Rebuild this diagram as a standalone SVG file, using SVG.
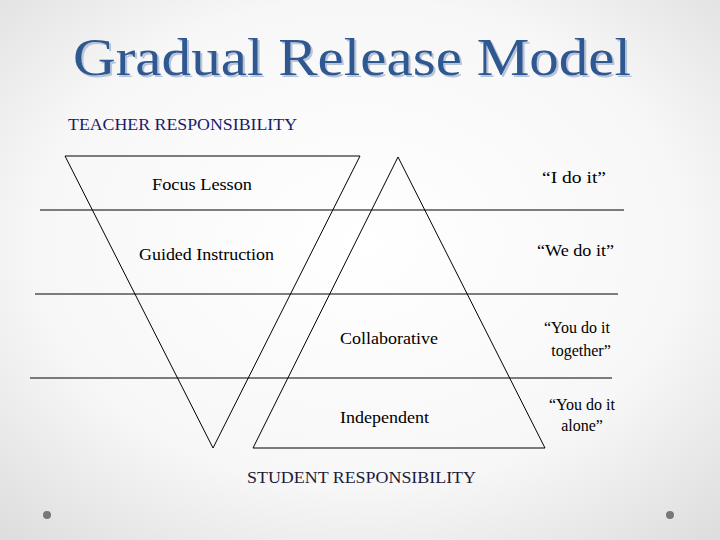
<svg xmlns="http://www.w3.org/2000/svg" width="720" height="540" viewBox="0 0 720 540">
<defs>
<radialGradient id="bg" cx="50%" cy="45%" r="75%">
<stop offset="0" stop-color="#ffffff"/><stop offset="0.6" stop-color="#f7f7f7"/><stop offset="1" stop-color="#dcdcdc"/>
</radialGradient>
<filter id="sh" x="-5%" y="-20%" width="110%" height="140%"><feDropShadow dx="2" dy="2" stdDeviation="0.5" flood-color="#b8c4d8"/></filter>
<style>
.n{fill:none;stroke:#000;stroke-width:1}
</style>
</defs>
<rect width="720" height="540" fill="url(#bg)"/>
<text x="352" y="75" text-anchor="middle" font-family="Liberation Serif, serif" font-size="52" fill="#2f5891" textLength="558" lengthAdjust="spacingAndGlyphs" filter="url(#sh)">Gradual Release Model</text>
<g font-family="'Liberation Serif', 'DejaVu Serif', serif" font-size="16" fill="#000">
<text x="68" y="130" fill="#1b1b6b" textLength="229" lengthAdjust="spacingAndGlyphs">TEACHER RESPONSIBILITY</text>
<g id="connectors">
<line class="n" x1="40" y1="210" x2="624" y2="210"/>
<line class="n" x1="35" y1="294" x2="618" y2="294"/>
<line class="n" x1="30" y1="378" x2="612" y2="378"/>
</g>
<g id="teacher-triangle"><polygon class="n" points="65,156 360,156 213,448"/></g>
<g id="student-triangle"><polygon class="n" points="398,157 253,448 545,448"/></g>
<g id="focus"><text x="152" y="190" textLength="100" lengthAdjust="spacingAndGlyphs">Focus Lesson</text><text x="542" y="183" textLength="64" lengthAdjust="spacingAndGlyphs">“I do it”</text></g>
<g id="guided"><text x="139" y="260" textLength="135" lengthAdjust="spacingAndGlyphs">Guided Instruction</text><text x="537" y="256" textLength="77" lengthAdjust="spacingAndGlyphs">“We do it”</text></g>
<g id="collab"><text x="340" y="344" textLength="98" lengthAdjust="spacingAndGlyphs">Collaborative</text><text x="577" y="333" text-anchor="middle">“You do it</text><text x="581" y="356" text-anchor="middle">together”</text></g>
<g id="indep"><text x="340" y="423" textLength="89" lengthAdjust="spacingAndGlyphs">Independent</text><text x="582" y="410" text-anchor="middle">“You do it</text><text x="582" y="431" text-anchor="middle">alone”</text></g>
<text x="247" y="483" fill="#1b1b3b" textLength="229" lengthAdjust="spacingAndGlyphs">STUDENT RESPONSIBILITY</text>
</g>
<circle cx="47" cy="515" r="4" fill="#777"/>
<circle cx="670" cy="515" r="4" fill="#777"/>
</svg>
